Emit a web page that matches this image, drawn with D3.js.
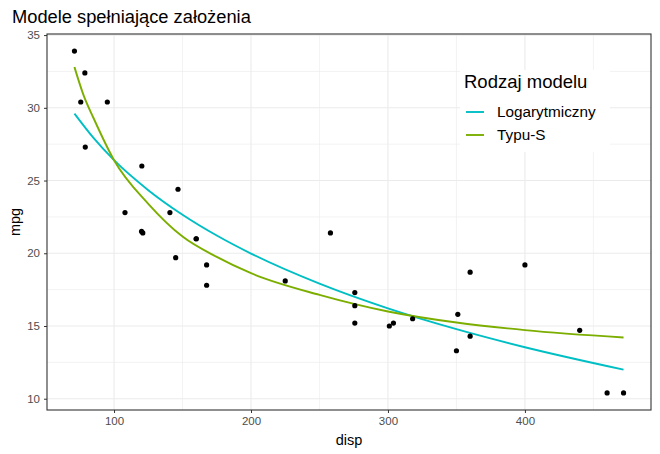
<!DOCTYPE html>
<meta charset="utf-8">
<head>
    <title>Modele</title>
    <script src="https://cdn.jsdelivr.net/npm/d3@7"></script>
</head>
<style>
body { margin: 0; background: #fff; }
text { font-family: "Liberation Sans", Arial, sans-serif; }
</style>
<body>
<svg></svg>
<script>

// mtcars: displacement and mpg
let disp = [160, 160, 108, 258, 360, 225, 360, 146.7, 140.8, 167.6, 167.6, 275.8, 275.8, 275.8,
            472, 460, 440, 78.7, 75.7, 71.1, 120.1, 318, 304, 350, 400, 79, 120.3, 95.1, 351, 145, 301, 121];
let mpg = [21.0, 21.0, 22.8, 21.4, 18.7, 18.1, 14.3, 24.4, 22.8, 19.2, 17.8, 16.4, 17.3, 15.2,
           10.4, 10.4, 14.7, 32.4, 30.4, 33.9, 21.5, 15.5, 15.2, 13.3, 19.2, 27.3, 26.0, 30.4, 15.8, 19.7, 15.0, 21.4];

// fitted curves
let logDisp = [71.1, 85, 100, 125, 150, 175, 200, 250, 300, 350, 400, 472];
let logMpg  = [29.6, 27.93, 26.4, 24.34, 22.65, 21.22, 19.98, 17.91, 16.21, 14.78, 13.54, 12.0];
let sDisp = [71.1, 78, 85, 100, 125, 150, 175, 200, 250, 300, 350, 400, 472];
let sMpg  = [32.8, 30.8, 29.3, 26.4, 23.4, 21.15, 19.75, 18.63, 17.14, 16.0, 15.24, 14.72, 14.21];

let seriesNames = ["Logarytmiczny", "Typu-S"];
let seriesColors = ["#00BFC4", "#7CAE00"];
let xTicks = [100, 200, 300, 400];
let yTicks = [10, 15, 20, 25, 30, 35];

let W = 660, H = 454;
let margin = {top: 34, right: 9, bottom: 44, left: 47};
let width = W - margin.left - margin.right;
let height = H - margin.top - margin.bottom;

let svg = d3.select("svg").attr("width", W).attr("height", H);

// title
svg.append("text").attr("x", 12).attr("y", 23)
   .style("font-size", "18.3px").attr("fill", "#000")
   .text("Modele spełniające założenia");

let g = svg.append("g").attr("transform", "translate(" + margin.left + "," + margin.top + ")");

// scales with ggplot-like 5% expansion
let xr = d3.extent(disp), yr = d3.extent(mpg);
let xe = (xr[1] - xr[0]) * 0.05, ye = (yr[1] - yr[0]) * 0.05;
let x = d3.scaleLinear().domain([xr[0] - xe, xr[1] + xe]).range([0, width]);
let y = d3.scaleLinear().domain([yr[0] - ye, yr[1] + ye]).range([height, 0]);

// grid, minor then major
let xMinor = [150, 250, 350, 450];
let yMinor = [12.5, 17.5, 22.5, 27.5, 32.5];
g.selectAll(".xminor").data(xMinor).enter().append("line")
  .attr("x1", d => x(d)).attr("x2", d => x(d)).attr("y1", 0).attr("y2", height)
  .attr("stroke", "#EBEBEB").attr("stroke-width", 0.6);
g.selectAll(".yminor").data(yMinor).enter().append("line")
  .attr("y1", d => y(d)).attr("y2", d => y(d)).attr("x1", 0).attr("x2", width)
  .attr("stroke", "#EBEBEB").attr("stroke-width", 0.6);
g.selectAll(".xmajor").data(xTicks).enter().append("line")
  .attr("x1", d => x(d)).attr("x2", d => x(d)).attr("y1", 0).attr("y2", height)
  .attr("stroke", "#EBEBEB").attr("stroke-width", 1.1);
g.selectAll(".ymajor").data(yTicks).enter().append("line")
  .attr("y1", d => y(d)).attr("y2", d => y(d)).attr("x1", 0).attr("x2", width)
  .attr("stroke", "#EBEBEB").attr("stroke-width", 1.1);

// fitted lines
let line = d3.line().x(d => x(d[0])).y(d => y(d[1])).curve(d3.curveMonotoneX);
g.append("path").datum(d3.zip(logDisp, logMpg)).attr("d", line)
  .attr("fill", "none").attr("stroke", seriesColors[0]).attr("stroke-width", 1.9);
g.append("path").datum(d3.zip(sDisp, sMpg)).attr("d", line)
  .attr("fill", "none").attr("stroke", seriesColors[1]).attr("stroke-width", 1.9);

// points
g.selectAll(".pt").data(d3.zip(disp, mpg)).enter().append("circle")
  .attr("cx", d => x(d[0])).attr("cy", d => y(d[1])).attr("r", 2.6).attr("fill", "#000");

// legend
let lg = g.append("g").attr("transform", "translate(" + (413) + "," + (36) + ")");
lg.append("rect").attr("x", 0).attr("y", 0).attr("width", 150).attr("height", 82).attr("fill", "#fff");
lg.append("text").attr("x", 4).attr("y", 18).style("font-size", "18.5px").attr("fill", "#000").text("Rodzaj modelu");
seriesNames.forEach(function(n, i) {
  let yy = 42 + i * 23;
  lg.append("line").attr("x1", 6).attr("x2", 24).attr("y1", yy).attr("y2", yy)
    .attr("stroke", seriesColors[i]).attr("stroke-width", 1.9);
  lg.append("text").attr("x", 37).attr("y", yy + 5).style("font-size", "15.3px").attr("fill", "#000").text(n);
});

// border
g.append("rect").attr("width", width).attr("height", height)
  .attr("fill", "none").attr("stroke", "#333").attr("stroke-width", 1.1);

// axes
let xAxis = g.append("g").attr("transform", "translate(0," + height + ")")
  .call(d3.axisBottom(x).tickValues(xTicks).tickSize(3).tickPadding(4));
let yAxis = g.append("g")
  .call(d3.axisLeft(y).tickValues(yTicks).tickSize(3).tickPadding(4));
[xAxis, yAxis].forEach(function(a) {
  a.select(".domain").remove();
  a.selectAll("line").attr("stroke", "#333");
  a.selectAll("text").attr("fill", "#4D4D4D").style("font-size", "11.5px")
    .style("font-family", "Liberation Sans, Arial, sans-serif");
});

// axis titles
svg.append("text").attr("x", margin.left + width / 2).attr("y", 445)
  .attr("text-anchor", "middle").style("font-size", "14.5px").text("disp");
svg.append("text").attr("transform", "translate(20," + (margin.top + height / 2) + ") rotate(-90)")
  .attr("text-anchor", "middle").style("font-size", "14.5px").text("mpg");

</script>
</body>
